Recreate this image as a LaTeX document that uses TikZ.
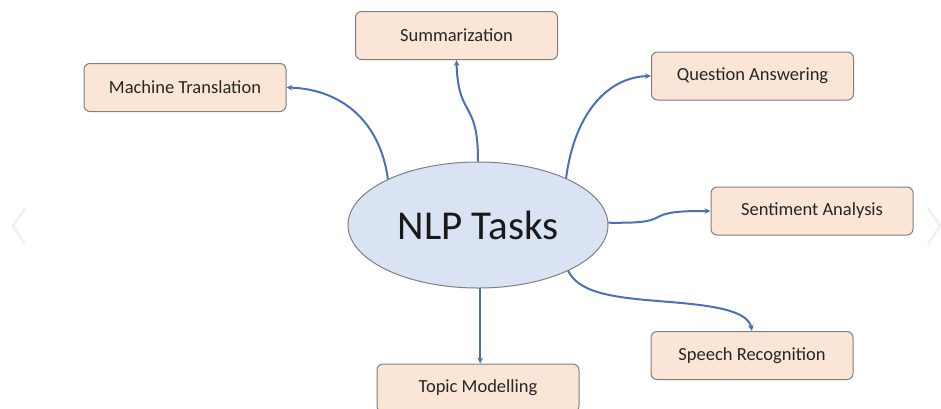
\documentclass[tikz,border=0pt]{standalone}
\usepackage{fontspec}
\setmainfont{Carlito}
\usetikzlibrary{shapes.geometric,arrows.meta}
\definecolor{boxfill}{HTML}{FBE5D6}
\definecolor{boxline}{HTML}{7F7F7F}
\definecolor{ellfill}{HTML}{DAE3F3}
\definecolor{arrowc}{HTML}{4A70B5}
\definecolor{txt}{HTML}{262626}
\definecolor{chev}{HTML}{F0F0F0}
\tikzset{
  taskbox/.style={draw=boxline, line width=1pt, fill=boxfill, rounded corners=6pt,
    minimum width=202pt, minimum height=48pt, inner sep=0pt, text=txt,
    font=\fontsize{18.5}{22}\selectfont},
  conn/.style={draw=arrowc, line width=2pt, -{Stealth[length=6pt,width=5.5pt]}},
  chevron/.style={draw=chev, line width=2.5pt}
}
\begin{document}
\begin{tikzpicture}[x=1pt,y=-1pt]
\useasboundingbox (0,0) rectangle (941,408);
% faint carousel chevrons
\coordinate (lc1) at (25,208); \coordinate (lc2) at (13,226); \coordinate (lc3) at (25,244);
\draw[chevron] (lc1) -- (lc2) -- (lc3);
\coordinate (rc1) at (928,208); \coordinate (rc2) at (940,226); \coordinate (rc3) at (928,244);
\draw[chevron] (rc1) -- (rc2) -- (rc3);

\node[ellipse, draw=boxline, line width=1pt, fill=ellfill, minimum width=260pt, minimum height=126pt, inner sep=0pt, text=black!90, font=\fontsize{41}{46}\selectfont] (nlp) at (478,225) {NLP Tasks};

\node[taskbox] (sum) at (456.5,35.5) {Summarization};
\node[taskbox] (mt) at (185,87.5) {Machine Translation};
\node[taskbox] (qa) at (752.5,76) {Question Answering};
\node[taskbox] (sa) at (812,211) {Sentiment Analysis};
\node[taskbox] (sr) at (752,355.5) {Speech Recognition};
\node[taskbox] (tm) at (478,388) {Topic Modelling};

\draw[conn] (nlp.153) .. controls (380,120) and (340,89) .. (mt.east);
\draw[conn] (nlp.90) .. controls (478,125) and (472,118) .. (466,106) .. controls (459,94) and (457,80) .. (sum.south);
\draw[conn] (nlp.28) .. controls (575,110) and (610,77) .. (qa.west);
\draw[conn] (nlp.1) .. controls (640,223) and (650,222) .. (660,216) .. controls (670,211) and (690,211) .. (sa.west);
\draw[conn] (nlp.-27) .. controls (580,295) and (620,298) .. (670,302) .. controls (720,306) and (748,312) .. (sr.north);
\draw[conn] (nlp.-88) -- (tm.north -| nlp.-88);
\end{tikzpicture}
\end{document}
